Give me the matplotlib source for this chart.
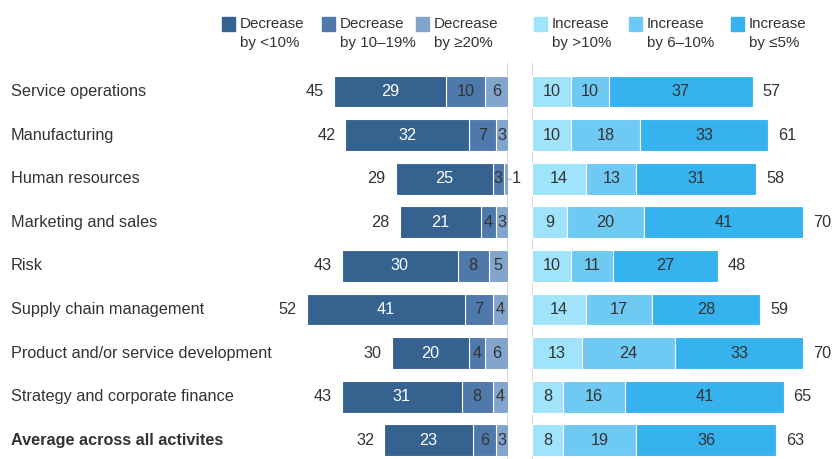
import matplotlib
matplotlib.use("Agg")
import matplotlib.pyplot as plt
from matplotlib.transforms import blended_transform_factory
from matplotlib.patches import Rectangle

plt.rcParams['font.family'] = ['Liberation Sans', 'DejaVu Sans']

categories = ["Service operations", "Manufacturing", "Human resources",
              "Marketing and sales", "Risk", "Supply chain management",
              "Product and/or service development",
              "Strategy and corporate finance", "Average across all activites"]

dec_lt10 = [29, 32, 25, 21, 30, 41, 20, 31, 23]
dec_10_19 = [10, 7, 3, 4, 8, 7, 4, 8, 6]
dec_ge20 = [6, 3, 1, 3, 5, 4, 6, 4, 3]
dec_total = [45, 42, 29, 28, 43, 52, 30, 43, 32]

inc_gt10 = [10, 10, 14, 9, 10, 14, 13, 8, 8]
inc_6_10 = [10, 18, 13, 20, 11, 17, 24, 16, 19]
inc_le5 = [37, 33, 31, 41, 27, 28, 33, 41, 36]
inc_total = [57, 61, 58, 70, 48, 59, 70, 65, 63]

legend_labels = ["Decrease\nby <10%", "Decrease\nby 10\u201319%", "Decrease\nby \u226520%",
                 "Increase\nby >10%", "Increase\nby 6\u201310%", "Increase\nby \u22645%"]

c_dec = ["#35628f", "#4e79aa", "#82a5cd"]
c_inc = ["#a0e4fb", "#6fcaf3", "#36b2ef"]
txt = "#333333"

W, H = 835, 459
fig = plt.figure(figsize=(W / 100, H / 100), dpi=100)
pxu = 3.87
top_px = 63
line_px_l = 508
line_px_r = 532

axL = fig.add_axes([250 / W, 0, (line_px_l - 250) / W, 1 - top_px / H])
axR = fig.add_axes([line_px_r / W, 0, (W - line_px_r) / W, 1 - top_px / H])

row0, step = 91.5, 43.6
y0 = (top_px - row0) / step
y1 = (H - row0) / step
for ax in (axL, axR):
    ax.set_ylim(y1, y0)
    ax.axis("off")
axL.set_xlim((line_px_l - 250) / pxu, 0)
axR.set_xlim(0, (W - line_px_r) / pxu)

ys = list(range(len(categories)))
bh = 0.725
fs = 11.7

# decrease bars (from center outwards: >=20, 10-19, <10)
left = [0] * len(ys)
for vals, col, tcol in [(dec_ge20, c_dec[2], txt), (dec_10_19, c_dec[1], txt),
                        (dec_lt10, c_dec[0], "white")]:
    axL.barh(ys, vals, left=left, height=bh, color=col, edgecolor="white", linewidth=0.8)
    for y, v, l in zip(ys, vals, left):
        if v >= 2:
            axL.text(l + v / 2, y, str(v), ha="center", va="center", fontsize=fs, color=tcol)
        else:
            axL.plot([0, -0.8], [y, y], color="#bbbbbb", lw=0.8, clip_on=False)
            axL.text(-1.0, y, str(v), ha="left", va="center", fontsize=fs, color=txt, clip_on=False)
    left = [l + v for l, v in zip(left, vals)]
for y, t in zip(ys, dec_total):
    axL.text(t + 2.6, y, str(t), ha="right", va="center", fontsize=fs, color=txt)

left = [0] * len(ys)
for vals, col in [(inc_gt10, c_inc[0]), (inc_6_10, c_inc[1]), (inc_le5, c_inc[2])]:
    axR.barh(ys, vals, left=left, height=bh, color=col, edgecolor="white", linewidth=0.8)
    for y, v, l in zip(ys, vals, left):
        axR.text(l + v / 2, y, str(v), ha="center", va="center", fontsize=fs, color=txt)
    left = [l + v for l, v in zip(left, vals)]
for y, t in zip(ys, inc_total):
    axR.text(t + 2.6, y, str(t), ha="left", va="center", fontsize=fs, color=txt)

axL.axvline(0, color="#d0d0d0", lw=1.2, zorder=0)
axR.axvline(0, color="#d0d0d0", lw=1.2, zorder=0)

tr = blended_transform_factory(fig.transFigure, axL.transData)
for i, (y, c) in enumerate(zip(ys, categories)):
    axL.text(11 / W, y, c, transform=tr, ha="left", va="center", fontsize=fs, color=txt,
             fontweight="bold" if i == len(categories) - 1 else "normal")

# legend
patch_x = [222, 322, 416, 534, 629, 731]
cols = c_dec + c_inc
for px, col, lab in zip(patch_x, cols, legend_labels):
    fig.patches.append(Rectangle((px / W, 1 - 31 / H), 13 / W, 14 / H,
                                 transform=fig.transFigure, color=col))
    fig.text((px + 18) / W, 1 - 17 / H, lab, ha="left", va="top", fontsize=10.9,
             color=txt, linespacing=1.5)

fig.savefig("out.png", dpi=100)
